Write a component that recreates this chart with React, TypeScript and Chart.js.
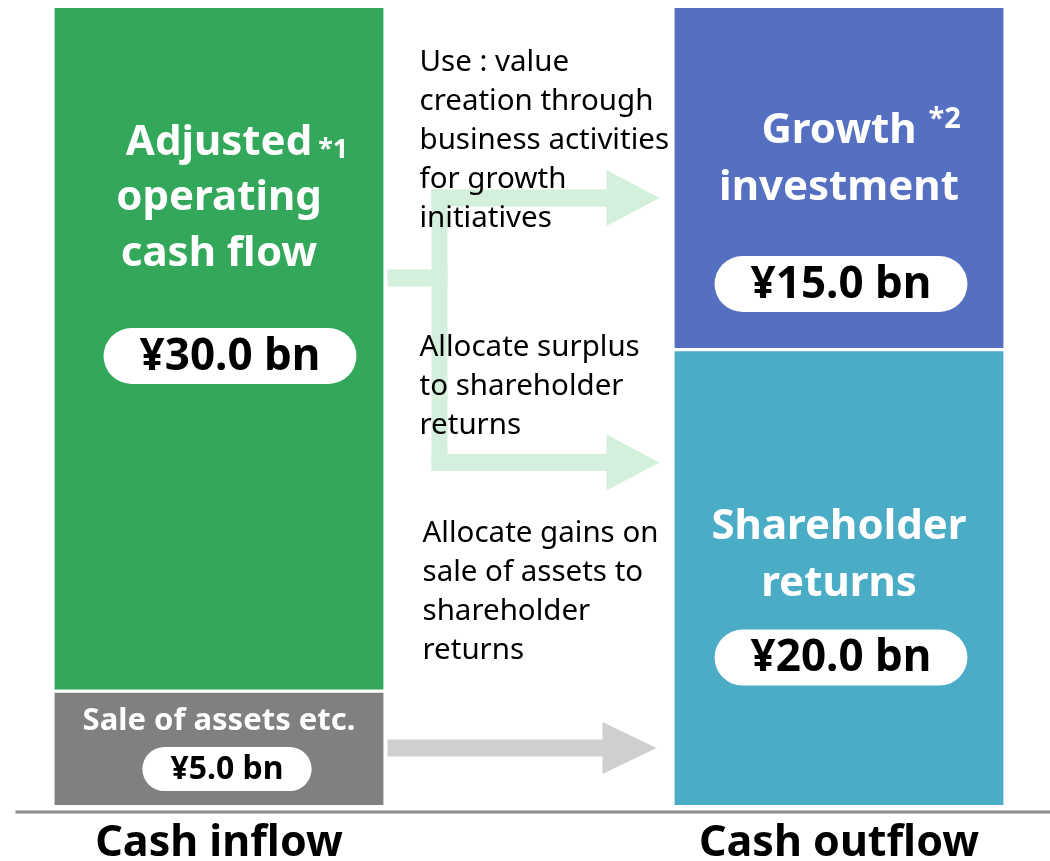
import React, { useEffect, useRef } from 'react';
import { Chart, registerables } from 'chart.js';

Chart.register(...registerables);

// ---- data ----
const categories = ['Cash inflow', 'Cash outflow'];
// lower stack segment: Sale of assets etc. / Shareholder returns (¥ bn)
const lowerValues = [5.0, 20.0];
// upper stack segment: Adjusted operating cash flow / Growth investment (¥ bn)
const upperValues = [30.0, 15.0];
const lowerNames = [['Sale of assets etc.'], ['Shareholder', 'returns']];
const upperNames = [['Adjusted', 'operating', 'cash flow'], ['Growth', 'investment']];
const upperNotes = ['*1', '*2'];
const lowerColors = ['#808080', '#4BACC6'];
const upperColors = ['#34A85A', '#5570C1'];
const flowNotes = [
  ['Use : value', 'creation through', 'business activities', 'for growth', 'initiatives'],
  ['Allocate surplus', 'to shareholder', 'returns'],
  ['Allocate gains on', 'sale of assets to', 'shareholder', 'returns'],
];

const FONT = '"Noto Sans", "Open Sans", sans-serif';
const fmt = (v: number) => `¥${v.toFixed(1)} bn`;

function arrowRight(ctx: CanvasRenderingContext2D, x0: number, x1: number, y: number, shaft: number, headLen: number, headH: number, color: string) {
  ctx.fillStyle = color;
  ctx.beginPath();
  ctx.moveTo(x0, y - shaft / 2);
  ctx.lineTo(x1 - headLen, y - shaft / 2);
  ctx.lineTo(x1 - headLen, y - headH / 2);
  ctx.lineTo(x1, y);
  ctx.lineTo(x1 - headLen, y + headH / 2);
  ctx.lineTo(x1 - headLen, y + shaft / 2);
  ctx.lineTo(x0, y + shaft / 2);
  ctx.closePath();
  ctx.fill();
}

function pill(ctx: CanvasRenderingContext2D, text: string, cx: number, cy: number, size: number, h: number, pad: number) {
  ctx.font = `bold ${size}px ${FONT}`;
  const w = ctx.measureText(text).width + pad * 2;
  ctx.fillStyle = '#ffffff';
  ctx.beginPath();
  (ctx as any).roundRect(cx - w / 2, cy - h / 2, w, h, h / 2);
  ctx.fill();
  ctx.fillStyle = '#000000';
  ctx.textAlign = 'center';
  ctx.textBaseline = 'middle';
  ctx.fillText(text, cx, cy + 1);
}

function lines(ctx: CanvasRenderingContext2D, ls: string[], x: number, y0: number, step: number, font: string, color: string, align: CanvasTextAlign) {
  ctx.font = font;
  ctx.fillStyle = color;
  ctx.textAlign = align;
  ctx.textBaseline = 'middle';
  ls.forEach((l, i) => ctx.fillText(l, x, y0 + i * step));
}

const overlayPlugin = {
  id: 'overlay',
  afterDatasetsDraw(chart: any) {
    const ctx: CanvasRenderingContext2D = chart.ctx;
    const area = chart.chartArea;
    const lower = chart.getDatasetMeta(0).data;
    const upper = chart.getDatasetMeta(1).data;
    const half = lower[0].width / 2;
    const leftEdgeR = lower[0].x + half;
    const rightEdgeL = lower[1].x - half;
    ctx.save();

    // axis base line
    ctx.strokeStyle = '#8a8a8a';
    ctx.lineWidth = 3;
    ctx.beginPath();
    ctx.moveTo(lower[0].x - half - 39, area.bottom);
    ctx.lineTo(chart.width, area.bottom);
    ctx.stroke();

    // flow arrows
    const green = '#D4F0DC';
    const yA = upper[1].y + 190;
    const yB = lower[1].y + 113;
    const yStub = yA + 80;
    const trunkX = leftEdgeR + 48;
    const tip = rightEdgeL - 15;
    ctx.fillStyle = green;
    ctx.fillRect(leftEdgeR + 4, yStub - 8.5, trunkX + 16 - leftEdgeR - 4, 17);
    ctx.fillRect(trunkX, yA - 8.5, 16, yB - yA + 17);
    arrowRight(ctx, trunkX, tip, yA, 17, 53, 56, green);
    arrowRight(ctx, trunkX, tip, yB, 17, 53, 56, green);
    const yG = (lower[0].y + lower[0].base) / 2;
    arrowRight(ctx, leftEdgeR + 4, tip - 3, yG, 17, 54, 52, '#D0CECE');

    // flow notes
    const noteFont = `29.5px ${FONT}`;
    lines(ctx, flowNotes[0], leftEdgeR + 36, area.top + 55, 39, noteFont, '#000', 'left');
    lines(ctx, flowNotes[1], leftEdgeR + 36, area.top + 340, 39, noteFont, '#000', 'left');
    lines(ctx, flowNotes[2], leftEdgeR + 39, area.top + 526, 39, noteFont, '#000', 'left');

    const titleFont = `bold 42px ${FONT}`;
    // green: adjusted operating cash flow
    {
      const el = upper[0];
      const y0 = el.y + 135;
      lines(ctx, upperNames[0], el.x, y0, 55.5, titleFont, '#fff', 'center');
      ctx.font = titleFont;
      const w = ctx.measureText(upperNames[0][0]).width;
      lines(ctx, [upperNotes[0]], el.x + w / 2 + 6, y0 + 7, 0, `bold 27px ${FONT}`, '#fff', 'left');
      pill(ctx, fmt(upperValues[0]), el.x + 11, el.y + 348, 44, 56, 36);
    }
    // blue: growth investment
    {
      const el = upper[1];
      const y0 = el.y + 123;
      lines(ctx, upperNames[1], el.x, y0, 57, titleFont, '#fff', 'center');
      ctx.font = titleFont;
      const w = ctx.measureText(upperNames[1][0]).width;
      lines(ctx, [upperNotes[1]], el.x + w / 2 + 12, y0 - 11, 0, `bold 29px ${FONT}`, '#fff', 'left');
      pill(ctx, fmt(upperValues[1]), el.x + 2, el.y + 276, 44, 56, 36);
    }
    // teal: shareholder returns
    {
      const el = lower[1];
      const y0 = el.y + 177;
      lines(ctx, lowerNames[1], el.x, y0, 57, titleFont, '#fff', 'center');
      pill(ctx, fmt(lowerValues[1]), el.x + 2, el.y + 308, 44, 56, 36);
    }
    // gray: sale of assets etc.
    {
      const el = lower[0];
      const y0 = el.y + 30;
      lines(ctx, lowerNames[0], el.x, y0, 40, `bold 31px ${FONT}`, '#fff', 'center');
      pill(ctx, fmt(lowerValues[0]), el.x + 8, el.y + 78, 32, 44, 28);
    }
    ctx.restore();
  },
};

export default function App() {
  const ref = useRef<HTMLCanvasElement>(null);
  useEffect(() => {
    document.body.style.margin = '0';
    const chart = new Chart(ref.current as HTMLCanvasElement, {
      type: 'bar',
      data: {
        labels: categories,
        datasets: [
          {
            label: 'Lower',
            data: lowerValues,
            backgroundColor: lowerColors,
            borderColor: '#ffffff',
            borderWidth: { top: 2, bottom: 0, left: 0, right: 0 },
            borderSkipped: false,
            barThickness: 329,
            clip: false,
          } as any,
          {
            label: 'Upper',
            data: upperValues,
            backgroundColor: upperColors,
            borderColor: '#ffffff',
            borderWidth: { top: 0, bottom: 2, left: 0, right: 0 },
            borderSkipped: false,
            barThickness: 329,
            clip: false,
          } as any,
        ],
      },
      options: {
        responsive: false,
        animation: false,
        layout: { padding: { top: 8, left: 219, right: 211, bottom: -15 } },
        plugins: {
          legend: { display: false },
          tooltip: { enabled: false },
          title: { display: false },
        },
        scales: {
          x: {
            stacked: true,
            offset: false,
            grid: { display: false, drawTicks: false },
            border: { display: false },
            ticks: {
              color: '#000000',
              font: { family: FONT, size: 43, weight: 'bold', lineHeight: 1 },
              padding: 10.5,
              maxRotation: 0,
              autoSkip: false,
            },
          },
          y: { stacked: true, display: false, min: -0.31, max: 35 },
        },
      },
      plugins: [overlayPlugin],
    });
    return () => chart.destroy();
  }, []);
  return (
    <div style={{ width: 1050, height: 861 }}>
      <canvas ref={ref} width={1050} height={861} />
    </div>
  );
}
